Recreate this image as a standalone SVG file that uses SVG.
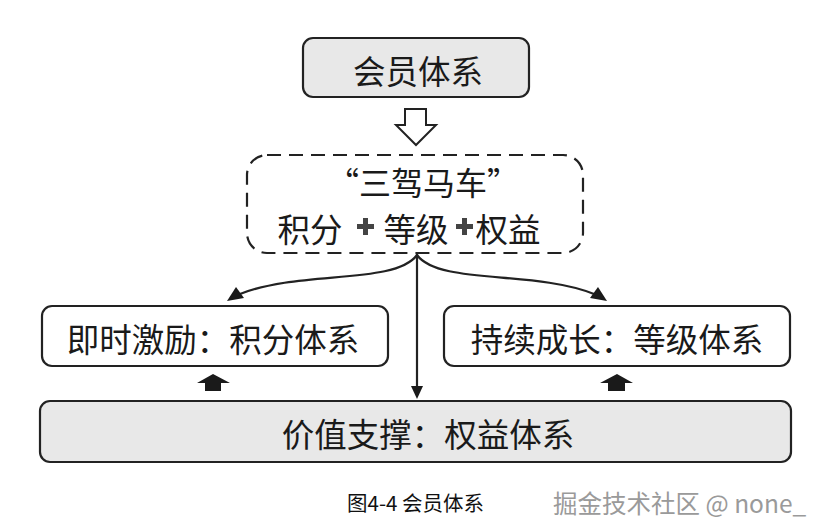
<svg xmlns="http://www.w3.org/2000/svg" width="831" height="530" viewBox="0 0 831 530">
<style>
.box{fill:#fff;stroke:#222;stroke-width:2.2}
.gray{fill:#e8e8e8}
.dash{fill:#fff;stroke:#222;stroke-width:2.2;stroke-dasharray:14 8}
.t{font-family:"Noto Sans CJK SC","Noto Sans CJK JP",sans-serif;font-size:32.5px;fill:#1a1a1a;text-anchor:middle;dominant-baseline:central}
.ln{fill:none;stroke:#222;stroke-width:2.2}
.plus{fill:#444}
</style>
<rect width="831" height="530" fill="#fff"/>
<g id="node-membership">
<rect class="box gray" x="303" y="38" width="226" height="59" rx="10"/>
<text class="t" x="418" y="69">会员体系</text>
</g>
<g id="hollow-arrow">
<path d="M405,109 L426,109 L426,125 L436,125 L416,145 L396,125 L405,125 Z" fill="#fff" stroke="#222" stroke-width="2"/>
</g>
<g id="node-troika">
<rect class="dash" x="247" y="155" width="336" height="98" rx="20"/>
<text class="t" x="423" y="181" style="font-size:32px">“三驾马车”</text>
<text class="t"><tspan x="310" y="227">积分</tspan><tspan x="416" y="227">等级</tspan><tspan x="508" y="227">权益</tspan></text>
<path class="plus" d="M357,224 h6 v-6 h5 v6 h6 v5 h-6 v6 h-5 v-6 h-6 Z"/>
<path class="plus" d="M456,224 h6 v-6 h5 v6 h6 v5 h-6 v6 h-5 v-6 h-6 Z"/>
</g>
<g id="node-points">
<rect class="box" x="42" y="306" width="346" height="60" rx="10"/>
<text class="t" x="213" y="337">即时激励：积分体系</text>
</g>
<g id="node-levels">
<rect class="box" x="444" y="306" width="346" height="60" rx="10"/>
<text class="t" x="617" y="337">持续成长：等级体系</text>
</g>
<g id="node-rights">
<rect class="box gray" x="40" y="401" width="751" height="61" rx="10"/>
<text class="t" x="428" y="432">价值支撑：权益体系</text>
</g>
<g id="connectors">
<path class="ln" d="M417,254 L417,388"/>
<path d="M411,386 L423,386 L417,399 Z" fill="#1a1a1a"/>
<path class="ln" d="M417,255 C395,285 300,270 240,294"/>
<path d="M227,301 L236,287 L244,298 Z" fill="#1a1a1a"/>
<path class="ln" d="M417,255 C439,285 534,270 594,294"/>
<path d="M607,301 L598,287 L590,298 Z" fill="#1a1a1a"/>
<path d="M205,391 L221,391 L221,383 L230,383 L213,374 L197,383 L205,383 Z" fill="#1a1a1a"/>
<path d="M608,391 L625,391 L625,383 L633,383 L617,374 L600,383 L608,383 Z" fill="#1a1a1a"/>
</g>
<g id="caption">
<text x="347" y="502" font-family="Noto Sans CJK SC,sans-serif" font-size="20.5" fill="#111" dominant-baseline="central">图4-4 会员体系</text>
<text x="553" y="502" font-family="Noto Sans CJK SC,sans-serif" font-size="24.5" fill="#9a9a9a" dominant-baseline="central">掘金技术社区 @ none_</text>
</g>
</svg>
